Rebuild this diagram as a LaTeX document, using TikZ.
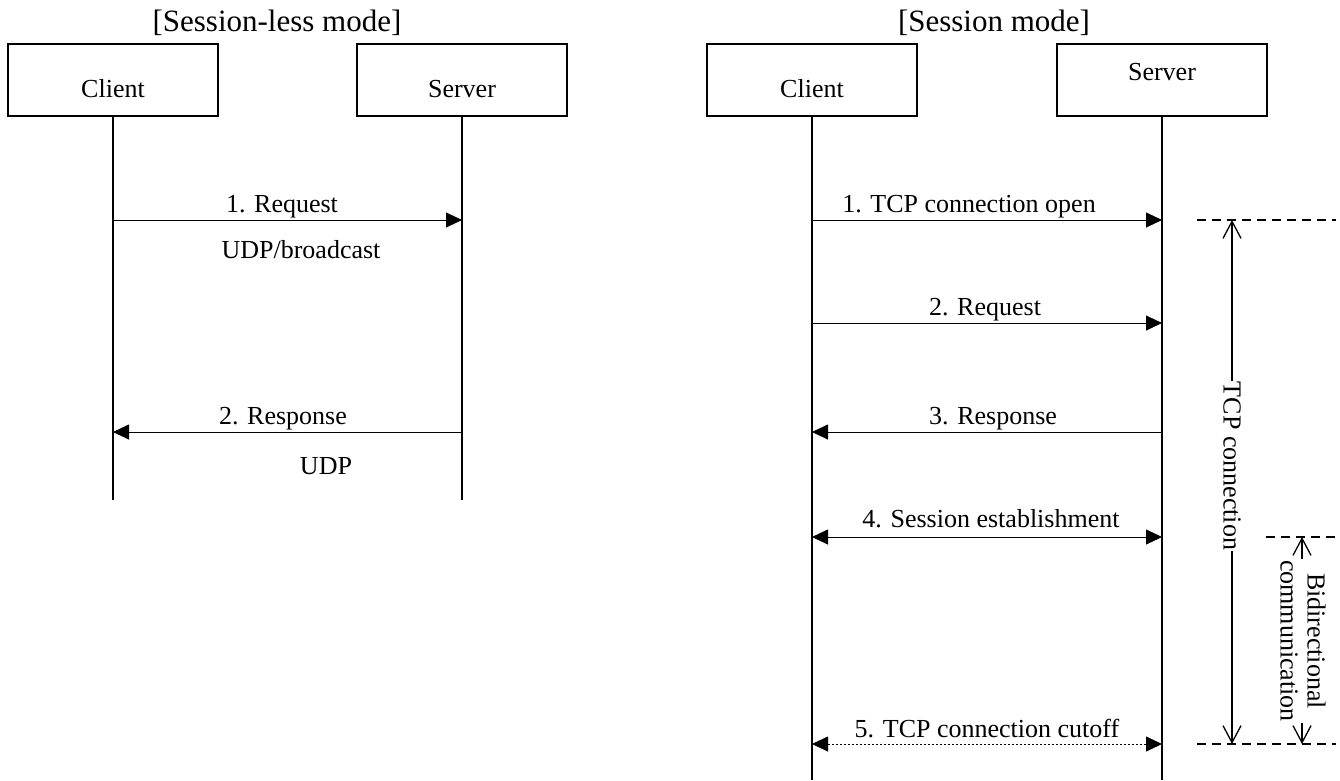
\documentclass[tikz,border=0pt]{standalone}
\usepackage{fontspec}
\setmainfont{Liberation Serif}
\usetikzlibrary{arrows.meta}
\begin{document}
\begin{tikzpicture}[x=1pt,y=-1pt,
  actor/.style={draw, line width=1.2pt, minimum width=210pt, minimum height=72pt, inner sep=0pt},
  txt/.style={font=\fontsize{26}{27}\selectfont, inner sep=0pt, anchor=base},
  ttl/.style={font=\fontsize{31}{34}\selectfont, inner sep=0pt, anchor=base},
  life/.style={line width=1.2pt},
  msg/.style={line width=0.9pt, -{Triangle[length=16pt,width=15pt]}},
  msgb/.style={line width=0.9pt, {Triangle[length=16pt,width=15pt]}-{Triangle[length=16pt,width=15pt]}},
  cut/.style={msgb, dash pattern=on 2.5pt off 1.5pt},
  guide/.style={line width=1.3pt, dash pattern=on 9pt off 6pt},
  span/.style={line width=1.3pt, {Straight Barb[length=17pt,width=18pt]}-{Straight Barb[length=17pt,width=18pt]}},
  vlabel/.style={font=\fontsize{26}{27}\selectfont, rotate=-90, fill=white, inner sep=1pt, align=center},
]
\useasboundingbox (0,0) rectangle (1340,780);

% ---------- session-less mode ----------
\node[ttl] (t1) at (277,31) {[Session-less mode]};
\node[actor] (c1) at (113,80) {};
\node[actor] (s1) at (462,80) {};
\node[txt] (c1t) at (113,97) {Client};
\node[txt] (s1t) at (462,97) {Server};
\coordinate (c1e) at (113,500);
\coordinate (s1e) at (462,500);
\draw[life] (c1.south) -- (c1e);
\draw[life] (s1.south) -- (s1e);

\coordinate (a1l) at (113,220);
\coordinate (a1r) at (462,220);
\coordinate (a2l) at (113,432);
\coordinate (a2r) at (462,432);
\draw[msg] (a1l) -- (a1r);
\draw[msg] (a2r) -- (a2l);
\node[txt] (a1t) at (282,212) {1. Request};
\node[txt] (a1u) at (301,258) {UDP/broadcast};
\node[txt] (a2t) at (283,424) {2. Response};
\node[txt] (a2u) at (326,474) {UDP};

% ---------- session mode ----------
\node[ttl] (t2) at (994,31) {[Session mode]};
\node[actor] (c2) at (812,80) {};
\node[actor] (s2) at (1162,80) {};
\node[txt] (c2t) at (812,97) {Client};
\node[txt] (s2t) at (1162,80) {Server};
\coordinate (c2e) at (812,780);
\coordinate (s2e) at (1162,780);
\draw[life] (c2.south) -- (c2e);
\draw[life] (s2.south) -- (s2e);

\coordinate (b1l) at (812,220);  \coordinate (b1r) at (1162,220);
\coordinate (b2l) at (812,323);  \coordinate (b2r) at (1162,323);
\coordinate (b3l) at (812,432);  \coordinate (b3r) at (1162,432);
\coordinate (b4l) at (812,537);  \coordinate (b4r) at (1162,537);
\coordinate (b5l) at (812,744);  \coordinate (b5r) at (1162,744);
\draw[msg]  (b1l) -- (b1r);
\draw[msg]  (b2l) -- (b2r);
\draw[msg]  (b3r) -- (b3l);
\draw[msgb] (b4l) -- (b4r);
\draw[cut]  (b5l) -- (b5r);
\node[txt] (b1t) at (969,212) {1. TCP connection open};
\node[txt] (b2t) at (985,315) {2. Request};
\node[txt] (b3t) at (993,424) {3. Response};
\node[txt] (b4t) at (991,527) {4. Session establishment};
\node[txt] (b5t) at (987,737) {5. TCP connection cutoff};

% ---------- interval markers ----------
\coordinate (g1a) at (1197,220); \coordinate (g1b) at (1336,220);
\coordinate (g2a) at (1266,537); \coordinate (g2b) at (1336,537);
\coordinate (g3a) at (1197,744); \coordinate (g3b) at (1336,744);
\draw[guide] (g1a) -- (g1b);
\draw[guide] (g2a) -- (g2b);
\draw[guide] (g3a) -- (g3b);

\coordinate (tcpTop) at (1232,220);
\coordinate (tcpBot) at (1232,744);
\draw[span] (tcpTop) -- (tcpBot);
\node[vlabel] (tcpT) at (1232,466) {TCP connection};

\coordinate (biTop) at (1302,537);
\coordinate (biBot) at (1302,744);
\draw[span] (biTop) -- (biBot);
\node[vlabel] (biT) at (1303,641) {Bidirectional\\communication};
\end{tikzpicture}
\end{document}
